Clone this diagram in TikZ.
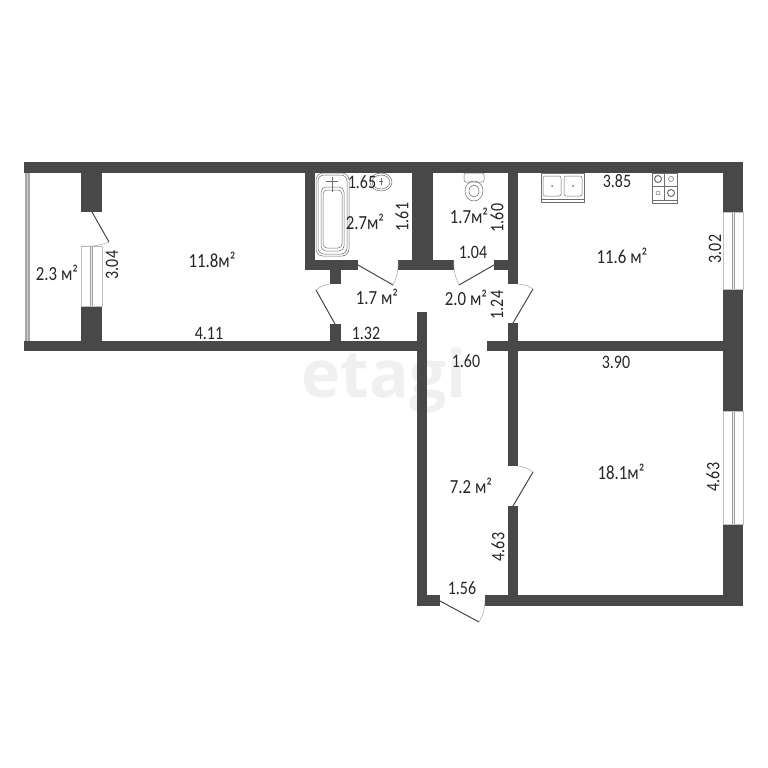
\documentclass[tikz,border=0pt]{standalone}
\usepackage{fontspec}
\setmainfont[FakeStretch=0.84]{Carlito}
\setsansfont{Open Sans}
\definecolor{wallcol}{HTML}{484848}
\definecolor{fixcol}{HTML}{6E6E6E}
\tikzset{
  wall/.style={fill=wallcol,draw=none},
  leaf/.style={draw=wallcol,line width=1pt},
  swing/.style={draw=gray!70,line width=0.5pt},
  fixture/.style={draw=fixcol,line width=0.5pt},
  area/.style={font=\fontsize{20}{20}\selectfont,text=black!85,inner sep=0pt},
  dim/.style={font=\fontsize{19}{19}\selectfont,text=black!85,inner sep=0pt},
  dimv/.style={dim,rotate=90}
}
\begin{document}
\begin{tikzpicture}[x=1pt,y=-1pt]
    \useasboundingbox (0,0) rectangle (768,768);
    \fill[white] (0,0) rectangle (768,768);
    \node[font=\fontsize{66}{66}\sffamily\bfseries\selectfont,text=black,opacity=0.06,inner sep=0pt] (mark) at (384,380) {etagi};
    \foreach \xa/\ya/\xb/\yb in {24/162/743/173, 24/341/427/351, 81/173/102/212, 81/306/102/341,
        305/173/315/270, 305/260/358/270, 398/260/454/270, 330/270/341/284, 330/324/341/341,
        412/173/433/270, 508/173/518/284, 494/260/508/270, 508/323/518/466, 508/506/518/595,
        487/341/733/351, 417/312/427/606, 417/595/440/606, 485/595/743/606,
        723/173/743/212, 723/289/743/411, 723/524/743/606}
        \fill[wall] (\xa,\ya) rectangle (\xb,\yb);
    \fill[gray!70] (25,173) rectangle (30,341);
    \draw[gray!40,line width=0.6pt] (27.5,173)--(27.5,341);
    \foreach \xa/\ya/\xb/\yb in {81/246/102/306, 723/212/743/289, 723/411/743/524} {
        \draw[gray!50,line width=0.4pt] (\xa,\ya) rectangle (\xb,\yb);
        \fill[gray!75] ({(\xa+\xb)/2-1.5},\ya) rectangle ({(\xa+\xb)/2+1.5},\yb);
        \fill[gray!15] ({(\xa+\xb)/2-0.5},\ya) rectangle ({(\xa+\xb)/2+0.5},\yb);
    }
    \draw[leaf] (92,212)--(109,242);
    \draw[swing] (109,242) to[bend left=12] (81,246);
    \draw[leaf] (358,265)--(393,285);
    \draw[swing] (393,285) to[bend right=14] (398,260);
    \draw[leaf] (494,265)--(459,285);
    \draw[swing] (459,285) to[bend left=14] (454,260);
    \draw[leaf] (335,324)--(316,290);
    \draw[swing] (316,290) to[bend left=14] (330,284);
    \draw[leaf] (513,323)--(533,289);
    \draw[swing] (533,289) to[bend right=14] (518,284);
    \draw[leaf] (513,506)--(533,472);
    \draw[swing] (533,472) to[bend right=14] (518,466);
    \draw[leaf] (440,601)--(479,622);
    \draw[swing] (479,622) to[bend right=14] (485,600);
    \draw[fixture,rounded corners=7pt] (316,173) rectangle (349,256);
    \draw[fixture,rounded corners=6pt] (318,175) rectangle (347,254);
    \draw[fixture,rounded corners=5pt] (321,187) rectangle (344,251);
    \draw[fixture,rounded corners=4pt] (323,190) rectangle (342,248);
    \draw[fixture] (332,177)--(332,192) (326,181)--(338,181);
    \draw[fixture] (381,182) ellipse (11 and 9);
    \draw[fixture] (381,182) ellipse (9 and 7);
    \draw[fixture] (379,181)--(383,181) (381,178)--(381,185);
    \draw[fixture,rounded corners=2pt] (464,173) rectangle (484,182);
    \draw[fixture] (474,191) ellipse (9 and 10);
    \draw[fixture] (474,191) ellipse (5 and 6);
    \draw[fixture] (541,173) rectangle (584,202);
    \draw[fixture] (541,199)--(584,199);
    \foreach \xa in {543,564} {
        \draw[fixture,rounded corners=2pt] (\xa,176) rectangle ++(18,20);
        \fill[fixcol] ({\xa+9},186) circle (1);
    }
    \draw[fixture] (652,173) rectangle (677,203);
    \draw[fixture] (652,200)--(677,200) (664.5,173)--(664.5,200) (652,186)--(677,186);
    \draw[fixture,line width=1pt] (658,179) circle (3.5);
    \draw[fixture] (671,179) circle (2.5);
    \draw[fixture] (658,193) circle (2);
    \draw[fixture,line width=1pt] (671,193) circle (3.5);
    \node[area] (balcony) at (57,273) {2.3 м²};
    \node[area] (room) at (212,260) {11.8м²};
    \node[area] (bath) at (365,222) {2.7м²};
    \node[area] (wc) at (469,216) {1.7м²};
    \node[area] (hallleft) at (377,297) {1.7 м²};
    \node[area] (hallright) at (466,298) {2.0 м²};
    \node[area] (kitchen) at (622,256) {11.6 м²};
    \node[area] (bedroom) at (621,472) {18.1м²};
    \node[area] (corridor) at (471,486) {7.2 м²};
    \node[dimv] (dimbalcony) at (112,265) {3.04};
    \node[dim] (dimroom) at (209,333) {4.11};
    \node[dim] (dimbathw) at (362,182) {1.65};
    \node[dimv] (dimbathh) at (402,217) {1.61};
    \node[dimv] (dimwch) at (497,218) {1.60};
    \node[dim] (dimwcw) at (473,252) {1.04};
    \node[dimv] (dimhallh) at (497,305) {1.24};
    \node[dim] (dimhallw) at (366,333) {1.32};
    \node[dim] (dimcorrw) at (466,361) {1.60};
    \node[dim] (dimbedw) at (616,362) {3.90};
    \node[dim] (dimkitw) at (617,181) {3.85};
    \node[dimv] (dimkith) at (715,249) {3.02};
    \node[dimv] (dimbedh) at (713,477) {4.63};
    \node[dimv] (dimcorrh) at (498,547) {4.63};
    \node[dim] (dimdoor) at (462,588) {1.56};
\end{tikzpicture}
\end{document}
